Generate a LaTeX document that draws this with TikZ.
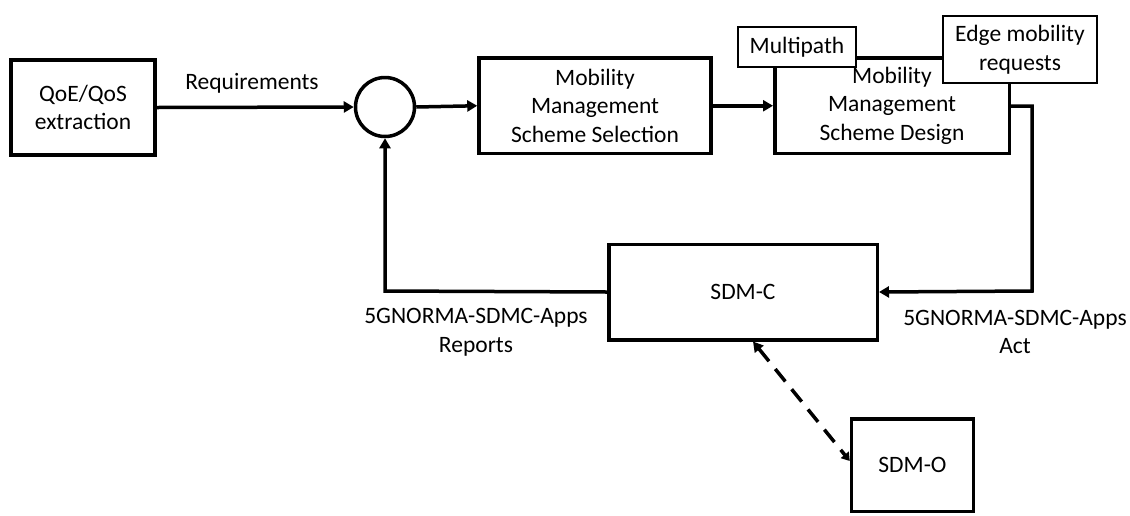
\documentclass[tikz,border=0pt]{standalone}
\usepackage{fontspec}
\setmainfont{Carlito}
\usetikzlibrary{arrows.meta,calc}
\begin{document}
\begin{tikzpicture}[x=1pt,y=-1pt,
  every node/.style={font=\fontsize{23.5}{28.7}\selectfont},
  mainbox/.style={draw,line width=3.5pt,inner sep=0pt,align=center},
  tagbox/.style={draw,line width=1.3pt,fill=white,inner sep=0pt,align=center},
  conn/.style={line width=3.5pt,-{Triangle[length=10pt,width=11pt]}},
  lbl/.style={align=center,inner sep=0pt}]
\useasboundingbox (0,0) rectangle (1130,515);
\node[mainbox,minimum width=144pt,minimum height=95pt] (qoe) at (83,107.5) {QoE/QoS\\extraction};
\node[draw,circle,line width=3.5pt,minimum size=59pt,inner sep=0pt] (circ) at (385,107) {};
\node[mainbox,minimum width=232pt,minimum height=95.5pt] (sel) at (595,105.75) {Mobility\\Management\\Scheme Selection};
\node[mainbox,minimum width=234.5pt,minimum height=95.5pt] (des) at (892,105.75) {Mobility\\Management\\Scheme Design};
\node[tagbox,minimum width=118pt,minimum height=40pt] (multi) at (797,47) {Multipath};
\node[tagbox,minimum width=154pt,minimum height=67pt] (edge) at (1020,49.5) {Edge mobility\\requests};
\node[mainbox,minimum width=268.5pt,minimum height=95.5pt] (sdmc) at (743,292) {SDM-C};
\node[mainbox,minimum width=122pt,minimum height=92.5pt] (sdmo) at (912.5,465) {SDM-O};
\coordinate (rt) at (1032,106);
\coordinate (rb) at (1032,291);
\coordinate (lb) at (385,291);
\coordinate (dtop) at ($(sdmc.south)+(10,0)$);
\draw[conn] (qoe.east) -- (circ.west);
\node[lbl] (req) at (252,83) {Requirements};
\draw[conn] (circ.east) -- (sel.west);
\draw[conn] (sel.east) -- (des.west);
\draw[conn] (des.east |- rt) -- (rt) -- (rb) -- (sdmc.east);
\draw[conn] (sdmc.west) -- (lb) -- (circ.south);
\draw[line width=3.5pt,dash pattern=on 16pt off 10pt,{Triangle[length=10pt,width=11pt]}-{Triangle[length=8pt,width=10pt]}] (dtop) -- ([yshift=4pt]sdmo.west);
\node[lbl] (repl) at (476,332) {5GNORMA-SDMC-Apps\\Reports};
\node[lbl] (actl) at (1015,332) {5GNORMA-SDMC-Apps\\Act};
\end{tikzpicture}
\end{document}
